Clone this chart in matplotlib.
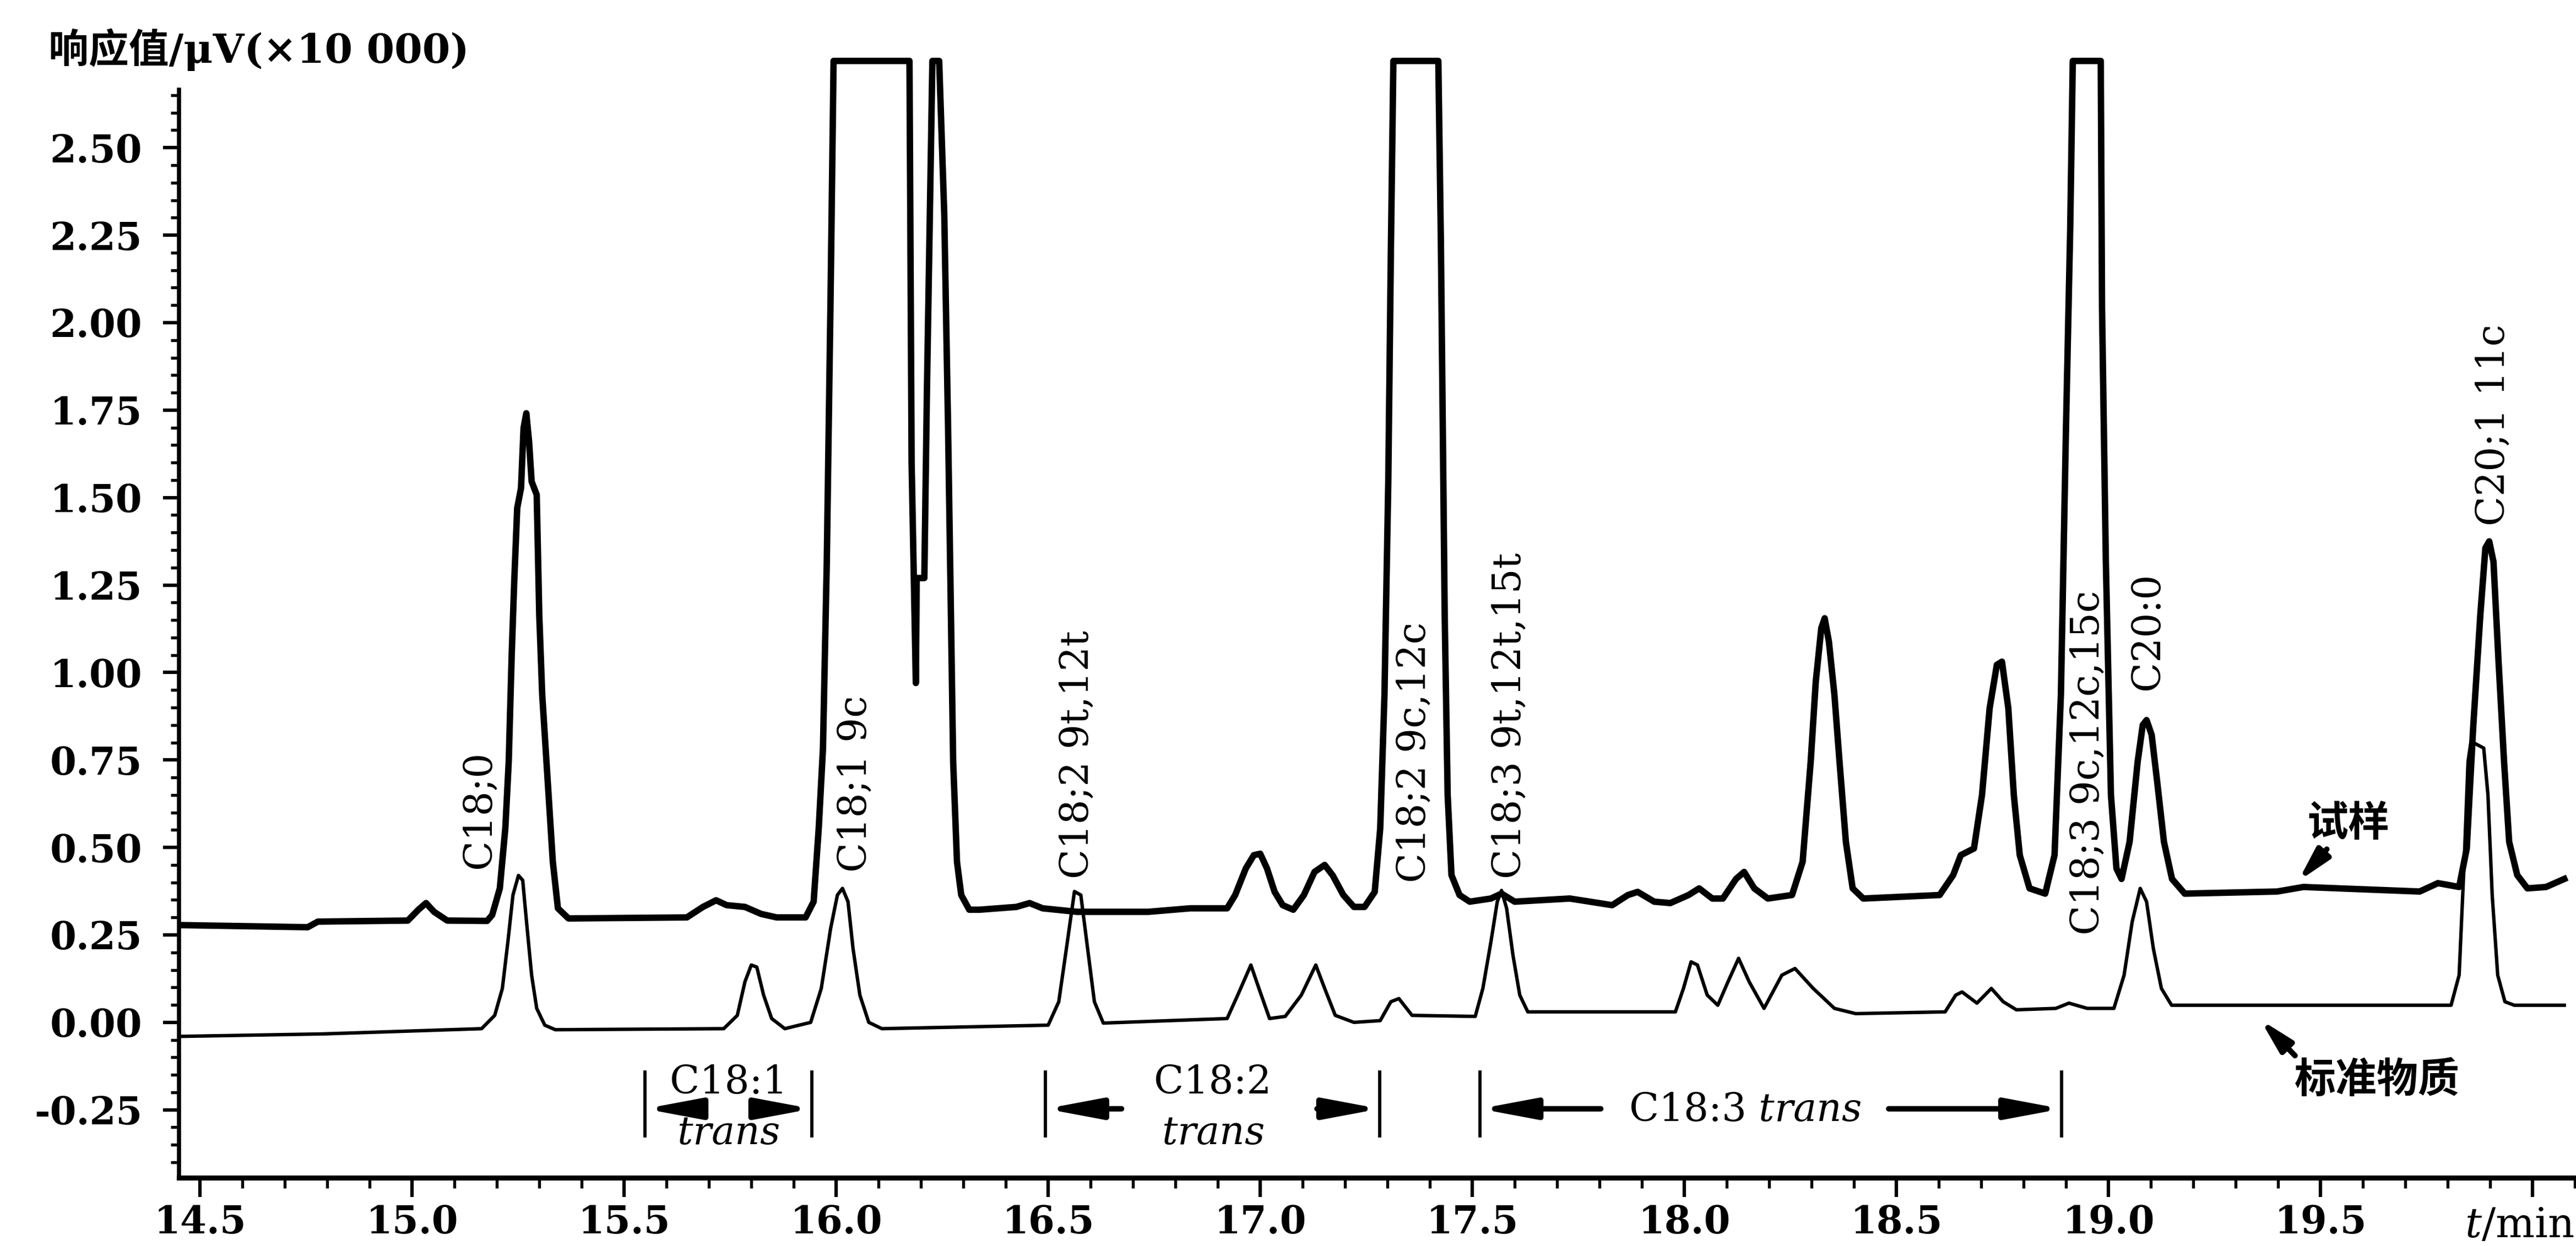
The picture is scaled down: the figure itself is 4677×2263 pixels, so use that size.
import numpy as np
import matplotlib
matplotlib.use('Agg')
import matplotlib.pyplot as plt
from matplotlib.ticker import MultipleLocator, FixedLocator

plt.rcParams['font.family'] = ['DejaVu Serif', 'Noto Sans CJK SC']
plt.rcParams['mathtext.fontset'] = 'custom'
plt.rcParams['mathtext.rm'] = 'DejaVu Serif'
plt.rcParams['mathtext.it'] = 'DejaVu Serif:italic'

# sample trace (试样): time / min, response (x10 000 uV)
sample_t = [14.455, 14.754, 14.778, 14.99, 15.015, 15.033, 15.052, 15.083, 15.177, 15.189,
            15.207, 15.22, 15.228, 15.235, 15.241, 15.248, 15.257, 15.263, 15.2695, 15.276,
            15.282, 15.294, 15.30, 15.307, 15.319, 15.332, 15.344, 15.369, 15.648, 15.686,
            15.717, 15.742, 15.785, 15.823, 15.86, 15.928, 15.947, 15.959, 15.969, 15.978,
            15.987, 15.994, 16.173, 16.178, 16.188, 16.19, 16.208, 16.214, 16.227, 16.243,
            16.255, 16.264, 16.276, 16.285, 16.295, 16.314, 16.338, 16.425, 16.456, 16.487,
            16.568, 16.736, 16.835, 16.922, 16.941, 16.966, 16.985, 17.0, 17.016, 17.034,
            17.053, 17.078, 17.103, 17.128, 17.152, 17.171, 17.196, 17.221, 17.246, 17.27,
            17.283, 17.293, 17.302, 17.308, 17.314, 17.42, 17.426, 17.435, 17.442, 17.451,
            17.47, 17.494, 17.544, 17.569, 17.60, 17.73, 17.83, 17.867, 17.89, 17.929,
            17.967, 18.01, 18.035, 18.066, 18.091, 18.122, 18.141, 18.165, 18.197, 18.254,
            18.279, 18.298, 18.31, 18.323, 18.331, 18.341, 18.354, 18.366, 18.381, 18.397,
            18.422, 18.602, 18.634, 18.652, 18.683, 18.702, 18.72, 18.737, 18.749, 18.764,
            18.777, 18.791, 18.814, 18.851, 18.873, 18.888, 18.90, 18.91, 18.916, 18.982,
            18.985, 18.994, 19.006, 19.019, 19.031, 19.05, 19.069, 19.081, 19.09, 19.102,
            19.115, 19.131, 19.15, 19.18, 19.398, 19.46, 19.734, 19.777, 19.827, 19.845,
            19.86, 19.877, 19.889, 19.898, 19.908, 19.92, 19.933, 19.945, 19.964, 19.988,
            20.032, 20.075]
sample_v = [0.278, 0.272, 0.288, 0.291, 0.322, 0.341, 0.316, 0.291, 0.29, 0.307,
            0.383, 0.555, 0.745, 1.05, 1.26, 1.47, 1.527, 1.699, 1.741, 1.66,
            1.546, 1.508, 1.165, 0.936, 0.707, 0.459, 0.326, 0.297, 0.30, 0.33,
            0.349, 0.335, 0.33, 0.31, 0.30, 0.30, 0.345, 0.555, 0.783, 1.317,
            2.08, 2.748, 2.748, 1.60, 0.97, 1.27, 1.27, 1.795, 2.748, 2.748,
            2.31, 1.699, 0.745, 0.459, 0.364, 0.322, 0.322, 0.33, 0.341, 0.326,
            0.316, 0.316, 0.326, 0.326, 0.364, 0.44, 0.478, 0.482, 0.44, 0.373,
            0.335, 0.322, 0.364, 0.43, 0.45, 0.42, 0.364, 0.33, 0.33, 0.373,
            0.555, 0.936, 1.546, 2.195, 2.748, 2.748, 2.233, 1.165, 0.65, 0.421,
            0.364, 0.345, 0.354, 0.368, 0.345, 0.354, 0.335, 0.364, 0.373, 0.345,
            0.341, 0.364, 0.383, 0.354, 0.354, 0.41, 0.43, 0.383, 0.354, 0.364,
            0.459, 0.745, 0.974, 1.127, 1.155, 1.088, 0.936, 0.745, 0.516, 0.383,
            0.354, 0.364, 0.421, 0.478, 0.497, 0.65, 0.898, 1.022, 1.031, 0.898,
            0.65, 0.478, 0.383, 0.368, 0.478, 0.936, 1.699, 2.271, 2.748, 2.748,
            2.042, 1.317, 0.65, 0.44, 0.41, 0.516, 0.745, 0.85, 0.864, 0.822,
            0.688, 0.516, 0.41, 0.368, 0.374, 0.387, 0.374, 0.398, 0.387, 0.497,
            0.84, 1.165, 1.356, 1.375, 1.317, 1.031, 0.745, 0.516, 0.421, 0.383,
            0.387, 0.41]

# reference standard trace (标准物质)
std_t = [14.455, 14.79, 15.164, 15.195, 15.213, 15.226, 15.238, 15.251, 15.261, 15.27,
         15.282, 15.294, 15.313, 15.338, 15.735, 15.767, 15.785, 15.80, 15.813, 15.829,
         15.848, 15.879, 15.94, 15.965, 15.987, 16.003, 16.015, 16.028, 16.04, 16.056,
         16.077, 16.108, 16.50, 16.525, 16.543, 16.562, 16.577, 16.593, 16.609, 16.63,
         16.922, 16.947, 16.978, 16.997, 17.022, 17.059, 17.097, 17.131, 17.152, 17.177,
         17.221, 17.283, 17.308, 17.327, 17.358, 17.507, 17.525, 17.544, 17.559, 17.569,
         17.581, 17.596, 17.612, 17.631, 17.979, 17.998, 18.016, 18.031, 18.054, 18.079,
         18.103, 18.128, 18.153, 18.188, 18.23, 18.261, 18.304, 18.354, 18.404, 18.615,
         18.64, 18.655, 18.69, 18.724, 18.752, 18.783, 18.876, 18.907, 18.95, 19.013,
         19.037, 19.056, 19.075, 19.09, 19.106, 19.125, 19.149, 19.808, 19.827, 19.839,
         19.848, 19.855, 19.885, 19.895, 19.905, 19.918, 19.935, 19.957, 20.075]
std_v = [-0.04, -0.033, -0.018, 0.02, 0.097, 0.23, 0.364, 0.42, 0.406, 0.287,
         0.135, 0.04, -0.008, -0.021, -0.018, 0.02, 0.116, 0.164, 0.158, 0.078,
         0.011, -0.018, 0.0, 0.097, 0.268, 0.364, 0.383, 0.345, 0.21, 0.078,
         0.0, -0.018, -0.008, 0.059, 0.211, 0.374, 0.364, 0.211, 0.059, -0.002,
         0.011, 0.078, 0.164, 0.097, 0.011, 0.017, 0.078, 0.164, 0.097, 0.02,
         0.0, 0.005, 0.059, 0.068, 0.02, 0.017, 0.097, 0.23, 0.345, 0.377,
         0.326, 0.192, 0.078, 0.03, 0.03, 0.097, 0.173, 0.164, 0.078, 0.049,
         0.116, 0.183, 0.116, 0.04, 0.135, 0.154, 0.097, 0.04, 0.025, 0.03,
         0.078, 0.087, 0.055, 0.097, 0.059, 0.036, 0.04, 0.055, 0.04, 0.04,
         0.135, 0.287, 0.383, 0.345, 0.211, 0.097, 0.049, 0.049, 0.135, 0.459,
         0.745, 0.803, 0.784, 0.65, 0.364, 0.135, 0.059, 0.049, 0.049]

# peak labels: text, retention time, bottom of the label
peak_labels = ['C18;0', 'C18;1 9c', 'C18;2 9t,12t', 'C18;2 9c,12c',
               'C18;3 9t,12t,15t', 'C18;3 9c,12c,15c', 'C20:0', 'C20;1 11c']
peak_t = [15.158, 16.045, 16.569, 17.364, 17.588, 18.952, 19.093, 19.907]
peak_y = [0.44, 0.43, 0.41, 0.40, 0.41, 0.25, 0.95, 1.42]

# trans ranges under the traces: left end, right end, inner arrow ends
range_top = ['C18:1', 'C18:2', 'C18:3 $trans$']
range_bottom = ['$trans$', '$trans$', '']
range_left = [15.549, 16.494, 17.518]
range_right = [15.943, 17.282, 18.890]
range_in_left = [15.688, 16.673, 17.803]
range_in_right = [15.818, 17.134, 18.482]

y_ticks = [-0.25, 0.0, 0.25, 0.5, 0.75, 1.0, 1.25, 1.5, 1.75, 2.0, 2.25, 2.5]
x_ticks = [14.5, 15.0, 15.5, 16.0, 16.5, 17.0, 17.5, 18.0, 18.5, 19.0, 19.5, 20.0]
x_labels = ['14.5', '15.0', '15.5', '16.0', '16.5', '17.0', '17.5', '18.0', '18.5',
            '19.0', '19.5', '']

fig = plt.figure(figsize=(4677 / 300, 2263 / 300), dpi=300)
ax = fig.add_axes([0.0695, 0.0548, 0.9305, 0.9109])

ax.plot(sample_t, sample_v, color='black', lw=2.8, solid_joinstyle='round', clip_on=False)
ax.plot(std_t, std_v, color='black', lw=1.5, solid_joinstyle='round', clip_on=False)

ax.set_xlim(14.4506, 20.1026)
ax.set_ylim(-0.444, 2.80)

for s in ['top', 'right']:
    ax.spines[s].set_visible(False)
ax.spines['left'].set_bounds(-0.444, 2.666)
ax.spines['left'].set_linewidth(1.8)
ax.spines['bottom'].set_linewidth(2.2)

ax.set_yticks(y_ticks)
ax.set_yticklabels(['%.2f' % v for v in y_ticks])
ax.yaxis.set_minor_locator(FixedLocator(np.arange(-0.40, 2.66, 0.05)))
ax.set_xticks(x_ticks)
ax.set_xticklabels(x_labels)
ax.xaxis.set_minor_locator(MultipleLocator(0.1))
ax.tick_params(axis='y', which='major', length=7, width=1.5, direction='out', pad=9)
ax.tick_params(axis='y', which='minor', length=3.5, width=1.3, direction='out')
ax.tick_params(axis='x', which='major', length=8.5, width=1.5, direction='out', pad=3)
ax.tick_params(axis='x', which='minor', length=4.5, width=1.3, direction='out')
for lab in ax.get_yticklabels() + ax.get_xticklabels():
    lab.set_fontsize(16.5)
    lab.set_fontweight('bold')

fig.text(0.978, 0.0163, '$t$/min', fontsize=18, ha='center', va='center')
fig.text(0.0188, 0.960, '响应值/μV(×10 000)', fontsize=17.5, fontweight='bold',
         ha='left', va='center')

for txt, t, y in zip(peak_labels, peak_t, peak_y):
    ax.text(t, y, txt, rotation=90, ha='center', va='bottom', fontsize=17)

# trans ranges with arrows
bar_lo, bar_hi, arr_y = -0.324, -0.142, -0.247
for i in range(len(range_top)):
    for xb in (range_left[i], range_right[i]):
        ax.plot([xb, xb], [bar_lo, bar_hi], color='black', lw=1.4)
    for x0, x1 in ((range_in_left[i], range_left[i]), (range_in_right[i], range_right[i])):
        ax.annotate('', xy=(x1, arr_y), xytext=(x0, arr_y),
                    arrowprops=dict(arrowstyle='-|>,head_length=0.8,head_width=0.15',
                                    mutation_scale=25, lw=2.4, color='black',
                                    shrinkA=0, shrinkB=0))
    xc = (range_left[i] + range_right[i]) / 2
    if range_bottom[i]:
        ax.text(xc, -0.172, range_top[i], ha='center', va='center', fontsize=17)
        ax.text(xc, -0.318, range_bottom[i], ha='center', va='center', fontsize=17)
    else:
        ax.text((range_in_left[i] + range_in_right[i]) / 2, -0.252, range_top[i],
                ha='center', va='center', fontsize=17)

# trace names with pointers
arrow_kw = dict(arrowstyle='-|>,head_length=0.6,head_width=0.15', mutation_scale=20,
                lw=2.4, color='black', shrinkA=0, shrinkB=0)
ax.text(19.565, 0.565, '试样', fontsize=18, fontweight='bold', ha='center', va='center')
ax.annotate('', xy=(19.447, 0.403), xytext=(19.515, 0.495), arrowprops=arrow_kw)
ax.text(19.634, -0.167, '标准物质', fontsize=18, fontweight='bold', ha='center', va='center')
ax.annotate('', xy=(19.358, 0.008), xytext=(19.44, -0.095), arrowprops=arrow_kw)

fig.savefig('out.png', dpi=300)
